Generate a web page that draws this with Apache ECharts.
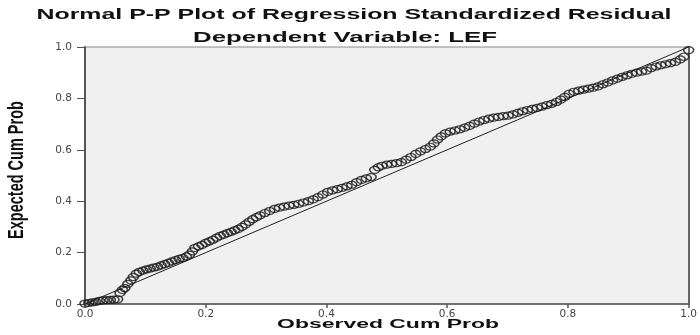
<!DOCTYPE html>
<html>
<head>
<meta charset="utf-8">
<script src="https://cdn.jsdelivr.net/npm/echarts@6/dist/echarts.min.js"></script>
<style>
  html, body { margin: 0; padding: 0; background: #ffffff; }
  #chart { width: 700px; height: 335px; }
</style>
</head>
<body>
<div id="chart"></div>
<script>
// ---- data ----
const titleText = 'Normal P-P Plot of Regression Standardized Residual';
const subtitleText = 'Dependent Variable: LEF';
const xAxisTitle = 'Observed Cum Prob';
const yAxisTitle = 'Expected Cum Prob';
const tickLabels = ['0.0', '0.2', '0.4', '0.6', '0.8', '1.0'];

const obsCumProb = [
  0.000,0.006,0.012,0.018,0.024,0.030,0.036,0.042,0.048,0.054,
  0.058,0.062,0.066,0.071,0.076,0.080,0.085,0.090,0.096,0.102,
  0.108,0.114,0.120,0.126,0.132,0.138,0.144,0.150,0.156,0.162,
  0.168,0.173,0.178,0.182,0.188,0.194,0.200,0.206,0.212,0.218,
  0.224,0.230,0.236,0.242,0.248,0.254,0.260,0.266,0.272,0.278,
  0.284,0.290,0.298,0.306,0.314,0.322,0.330,0.338,0.346,0.354,
  0.362,0.370,0.378,0.386,0.394,0.402,0.410,0.418,0.426,0.434,
  0.442,0.450,0.458,0.466,0.474,0.480,0.486,0.492,0.500,0.508,
  0.516,0.524,0.532,0.540,0.548,0.556,0.564,0.572,0.578,0.584,
  0.590,0.597,0.605,0.613,0.621,0.629,0.637,0.645,0.653,0.661,
  0.669,0.677,0.685,0.693,0.701,0.709,0.717,0.725,0.733,0.741,
  0.749,0.757,0.765,0.773,0.781,0.788,0.795,0.802,0.810,0.818,
  0.826,0.834,0.842,0.850,0.858,0.866,0.874,0.882,0.890,0.898,
  0.906,0.914,0.922,0.930,0.938,0.946,0.954,0.962,0.970,0.978,
  0.986,0.992,1.000
];
const expCumProb = [
  0.002,0.004,0.006,0.008,0.012,0.014,0.015,0.016,0.017,0.018,
  0.043,0.055,0.062,0.078,0.092,0.105,0.118,0.125,0.130,0.135,
  0.138,0.142,0.145,0.150,0.155,0.160,0.166,0.171,0.176,0.179,
  0.185,0.192,0.205,0.218,0.224,0.230,0.238,0.244,0.250,0.258,
  0.265,0.270,0.276,0.281,0.287,0.292,0.300,0.310,0.320,0.330,
  0.338,0.345,0.354,0.362,0.370,0.375,0.379,0.383,0.386,0.390,
  0.395,0.400,0.407,0.416,0.426,0.436,0.442,0.447,0.452,0.458,
  0.464,0.474,0.483,0.489,0.494,0.522,0.532,0.538,0.542,0.545,
  0.548,0.552,0.562,0.572,0.584,0.594,0.603,0.612,0.625,0.640,
  0.652,0.664,0.671,0.675,0.680,0.686,0.693,0.702,0.710,0.716,
  0.721,0.725,0.728,0.731,0.733,0.738,0.744,0.750,0.755,0.759,
  0.763,0.768,0.774,0.779,0.786,0.795,0.806,0.818,0.826,0.830,
  0.834,0.838,0.842,0.847,0.855,0.862,0.870,0.877,0.884,0.890,
  0.896,0.900,0.904,0.908,0.918,0.924,0.929,0.933,0.937,0.942,
  0.952,0.962,0.988
];
const refLineX = [0, 1];
const refLineY = [0, 1];

// ---- chart ----
const points = obsCumProb.map((v, i) => [v, expCumProb[i]]);
const refLine = refLineX.map((v, i) => [v, refLineY[i]]);
const labelFmt = v => tickLabels[Math.round(v / 0.2)] || '';
const tickFont = { fontFamily: 'DejaVu Sans', fontSize: 10.5, color: '#444' };

const chart = echarts.init(document.getElementById('chart'), null, { renderer: 'canvas' });
chart.setOption({
  animation: false,
  backgroundColor: '#ffffff',
  grid: {
    left: 85, right: 7, top: 47, bottom: 31,
    show: true, backgroundColor: '#F0F0F0', borderColor: '#8a8a8a', borderWidth: 1
  },
  xAxis: {
    type: 'value', min: 0, max: 1, interval: 0.2,
    axisLine: { onZero: false, lineStyle: { color: '#555', width: 1.5 } },
    axisTick: { show: true, length: 4, lineStyle: { color: '#555', width: 1.5 } },
    axisLabel: Object.assign({ margin: 5, formatter: labelFmt }, tickFont),
    splitLine: { show: false }
  },
  yAxis: [{
    type: 'value', min: 0, max: 1, interval: 0.2,
    axisLine: { show: true, onZero: false, lineStyle: { color: '#555', width: 2 } },
    axisTick: { show: true, length: 8, lineStyle: { color: '#555', width: 1 } },
    axisLabel: Object.assign({ margin: 13, formatter: labelFmt }, tickFont),
    splitLine: { show: false }
  }, {
    type: 'value', min: 0, max: 1, interval: 0.2, position: 'right',
    axisLine: { show: true, onZero: false, lineStyle: { color: '#666', width: 2 } },
    axisTick: { show: false }, axisLabel: { show: false }, splitLine: { show: false }
  }],
  series: [{
    type: 'line', data: refLine, symbol: 'none', silent: true,
    lineStyle: { color: '#222', width: 1 }, z: 2
  }, {
    type: 'scatter', data: points, symbol: 'circle', symbolSize: [10, 7],
    itemStyle: { color: 'rgba(0,0,0,0)', borderColor: '#1a1a1a', borderWidth: 1.4 },
    z: 3
  }],
  graphic: [{
    type: 'text', x: 354, y: 15, scaleX: 1.66, z: 10,
    style: { text: titleText, font: 'bold 15px "Liberation Sans", Arial, sans-serif',
             fill: '#111', align: 'center', verticalAlign: 'middle' }
  }, {
    type: 'text', x: 345, y: 38, scaleX: 1.72, z: 10,
    style: { text: subtitleText, font: 'bold 15px "Liberation Sans", Arial, sans-serif',
             fill: '#111', align: 'center', verticalAlign: 'middle' }
  }, {
    type: 'text', x: 388, y: 324, scaleX: 1.7, z: 10,
    style: { text: xAxisTitle, font: 'bold 13.5px "Liberation Sans", Arial, sans-serif',
             fill: '#111', align: 'center', verticalAlign: 'middle' }
  }, {
    type: 'text', x: 17, y: 170, rotation: Math.PI / 2, scaleY: 1.5, z: 10,
    style: { text: yAxisTitle, font: 'bold 14.5px "Liberation Sans", Arial, sans-serif',
             fill: '#111', align: 'center', verticalAlign: 'middle' }
  }]
});
</script>
</body>
</html>
